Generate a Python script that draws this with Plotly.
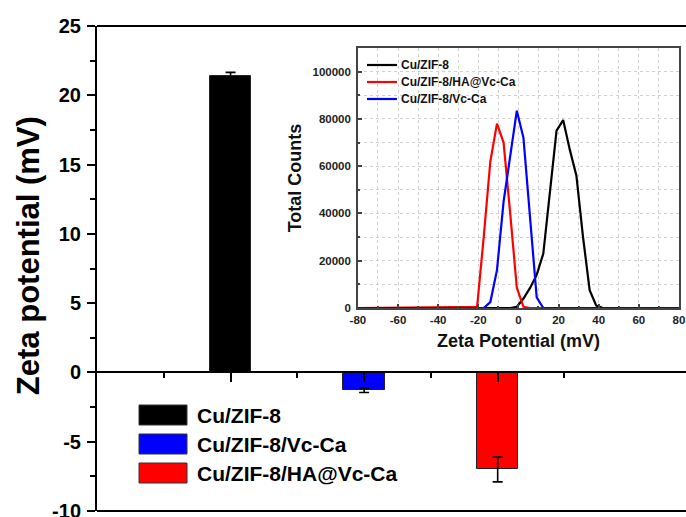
import plotly.graph_objects as go

# ---- main bar data ----
samples = ["Cu/ZIF-8", "Cu/ZIF-8/Vc-Ca", "Cu/ZIF-8/HA@Vc-Ca"]
bar_pos = [1, 2, 3]
zeta_mean = [21.4, -1.3, -7.0]
zeta_err = [0.25, 0.15, 0.9]
bar_colors = ["#000000", "#0000ff", "#ff0000"]
y_ticks = [-10, -5, 0, 5, 10, 15, 20, 25]

# ---- inset distribution data ----
x_cu = [-80, -4.1, -0.8, 2.5, 5.8, 9.1, 12.4, 15.7, 19.0, 22.3, 25.6, 28.9, 32.2, 35.5, 38.8, 42.1, 80]
y_cu = [0, 0, 500, 4000, 8500, 14000, 23000, 48000, 75000, 79500, 67000, 56000, 30000, 7500, 1000, 0, 0]

x_ha = [-80, -20.6, -17.3, -14.0, -10.7, -7.4, -4.1, -0.8, 2.5, 5.8, 80]
y_ha = [0, 500, 30000, 62000, 78000, 70000, 40000, 8500, 500, 0, 0]

x_vc = [-80, -17.3, -14.0, -10.7, -7.4, -4.1, -0.8, 2.5, 5.8, 9.1, 12.4, 80]
y_vc = [0, 0, 2500, 16000, 45000, 64000, 83500, 72000, 40000, 4500, 0, 0]

inset_names = ["Cu/ZIF-8", "Cu/ZIF-8/HA@Vc-Ca", "Cu/ZIF-8/Vc-Ca"]
inset_colors = ["#000000", "#ff0000", "#0000ff"]
inset_x_ticks = [-80, -60, -40, -20, 0, 20, 40, 60, 80]
inset_y_ticks = [0, 20000, 40000, 60000, 80000, 100000]

FONT = "Liberation Sans, Arial, sans-serif"

fig = go.Figure()

for i in range(3):
    fig.add_trace(go.Bar(
        x=[bar_pos[i]], y=[zeta_mean[i]], width=0.31,
        marker=dict(color=bar_colors[i], line=dict(color="#222222", width=1)),
        error_y=dict(type="data", array=[zeta_err[i]], color="#000000", thickness=1.6, width=5),
        showlegend=False, xaxis="x", yaxis="y",
    ))

for xs, ys, c in [(x_cu, y_cu, inset_colors[0]), (x_ha, y_ha, inset_colors[1]), (x_vc, y_vc, inset_colors[2])]:
    fig.add_trace(go.Scatter(x=xs, y=ys, mode="lines", line=dict(color=c, width=2.2),
                             showlegend=False, xaxis="x2", yaxis="y2"))

fig.update_layout(
    width=686, height=517,
    margin=dict(l=97, r=0, t=26, b=6),
    paper_bgcolor="white", plot_bgcolor="white",
    font=dict(family=FONT, color="black"),
    bargap=0,
    xaxis=dict(
        domain=[0, 1], range=[0, 4.41], anchor="free", position=10 / 35, automargin=False,
        showline=True, linecolor="black", linewidth=2,
        tickmode="array", tickvals=bar_pos, showticklabels=False,
        ticks="outside", ticklen=9, tickwidth=2, tickcolor="black",
        minor=dict(tickmode="array", tickvals=[0.5, 1.5, 2.5, 3.5], ticks="outside",
                   ticklen=5, tickwidth=2, tickcolor="black"),
        showgrid=False, zeroline=False,
    ),
    yaxis=dict(
        domain=[0, 1], range=[-10, 25], automargin=False,
        showline=True, linecolor="black", linewidth=2,
        tickmode="array", tickvals=y_ticks, ticktext=[str(v) for v in y_ticks],
        ticks="outside", ticklen=8, tickwidth=2, tickcolor="black",
        minor=dict(tickmode="array", tickvals=[-7.5, -2.5, 2.5, 7.5, 12.5, 17.5, 22.5],
                   ticks="outside", ticklen=5, tickwidth=2, tickcolor="black"),
        tickfont=dict(family=FONT, size=20, color="black", weight="bold"),
        ticklabelstandoff=2, ticklabeloverflow="allow",
        showgrid=False, zeroline=False,
    ),
    xaxis2=dict(
        domain=[0.443, 0.988], range=[-80, 80], anchor="y2", automargin=False,
        showline=True, mirror=True, linecolor="#444444", linewidth=1.5,
        tickmode="array", tickvals=inset_x_ticks, ticktext=[str(v) for v in inset_x_ticks],
        ticks="inside", ticklen=4, tickwidth=1.5, tickcolor="#444444",
        minor=dict(tickmode="array", tickvals=[-70, -50, -30, -10, 10, 30, 50, 70],
                   ticks="inside", ticklen=2.5, tickcolor="#444444",
                   showgrid=True, gridcolor="#d0d0d0", griddash="dot", gridwidth=1),
        showgrid=True, gridcolor="#d0d0d0", griddash="dot", gridwidth=1,
        tickfont=dict(family=FONT, size=11.5, color="#222222", weight="bold"),
        ticklabeloverflow="allow",
        title=dict(text="Zeta Potential (mV)", standoff=10,
                   font=dict(family=FONT, size=18, color="#111111", weight="bold")),
        zeroline=False,
    ),
    yaxis2=dict(
        domain=[0.4186, 0.9546], range=[0, 110000], anchor="x2", automargin=False,
        showline=True, mirror=True, linecolor="#444444", linewidth=1.5,
        tickmode="array", tickvals=inset_y_ticks, ticktext=[str(v) for v in inset_y_ticks],
        ticks="inside", ticklen=4, tickwidth=1.5, tickcolor="#444444",
        minor=dict(tickmode="array", tickvals=[10000, 30000, 50000, 70000, 90000, 110000],
                   ticks="inside", ticklen=2.5, tickcolor="#444444",
                   showgrid=True, gridcolor="#d0d0d0", griddash="dot", gridwidth=1),
        showgrid=True, gridcolor="#d0d0d0", griddash="dot", gridwidth=1,
        tickfont=dict(family=FONT, size=11.5, color="#222222", weight="bold"),
        ticklabelstandoff=3,
        title=dict(text="Total Counts", standoff=6,
                   font=dict(family=FONT, size=18, color="#111111", weight="bold")),
        zeroline=False,
    ),
)

shapes = [
    dict(type="line", xref="paper", yref="paper", x0=0, x1=1, y0=1, y1=1,
         line=dict(color="black", width=2)),
    dict(type="line", xref="paper", yref="paper", x0=0, x1=1, y0=0, y1=0,
         line=dict(color="black", width=2)),
]
annotations = [
    dict(text="Zeta potential (mV)", xref="paper", yref="paper", x=-0.115, y=0.526,
         textangle=-90, showarrow=False, xanchor="center", yanchor="middle",
         font=dict(family=FONT, size=31, color="black", weight="bold")),
]

# main legend (manual, bar swatches)
leg_rows_y = [(511 - 415) / 485, (511 - 444) / 485, (511 - 473) / 485]
leg_order = [0, 1, 2]
sw_h = 20 / 485
for row, idx in zip(leg_rows_y, leg_order):
    shapes.append(dict(type="rect", xref="paper", yref="paper",
                       x0=(139 - 97) / 589, x1=(187 - 97) / 589,
                       y0=row - sw_h / 2, y1=row + sw_h / 2,
                       fillcolor=bar_colors[idx], line=dict(color="#333333", width=1)))
    annotations.append(dict(text=samples[idx], xref="paper", yref="paper",
                            x=(195 - 97) / 589, y=row, xanchor="left", yanchor="middle",
                            showarrow=False,
                            font=dict(family=FONT, size=21, color="black", weight="bold")))

# inset legend (manual, line samples)
in_rows_y = [(511 - 65) / 485, (511 - 82) / 485, (511 - 99) / 485]
for row, name, c in zip(in_rows_y, inset_names, inset_colors):
    shapes.append(dict(type="line", xref="paper", yref="paper",
                       x0=(367 - 97) / 589, x1=(397 - 97) / 589, y0=row, y1=row,
                       line=dict(color=c, width=2.2)))
    annotations.append(dict(text=name, xref="paper", yref="paper",
                            x=(399 - 97) / 589, y=row, xanchor="left", yanchor="middle",
                            showarrow=False,
                            font=dict(family=FONT, size=12, color="#111111", weight="bold")))

fig.update_layout(shapes=shapes, annotations=annotations)

fig.write_html("out.html", config={"displayModeBar": False},
               post_script="document.body.style.margin='0';")
